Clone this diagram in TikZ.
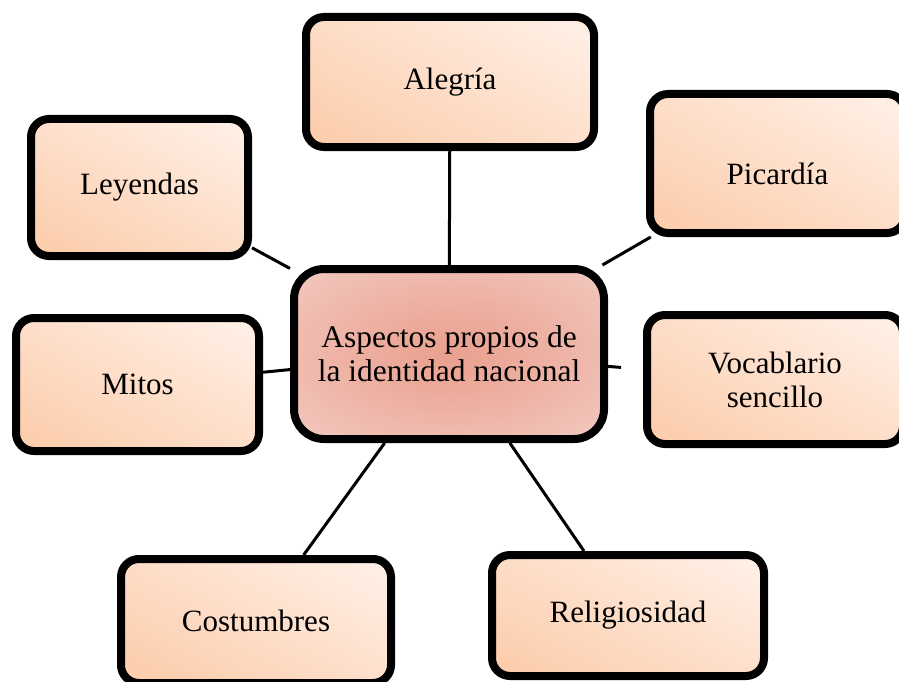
\documentclass[tikz,border=0pt]{standalone}
\usepackage{fontspec}
\setmainfont{Liberation Serif}
\usetikzlibrary{backgrounds}
\definecolor{peachA}{RGB}{252,206,174}
\definecolor{peachB}{RGB}{255,238,228}
\definecolor{coreA}{RGB}{234,160,143}
\definecolor{coreB}{RGB}{247,225,220}
\pgfdeclareverticalshading{peachlin}{100bp}{color(0bp)=(peachA); color(22bp)=(peachA); color(78bp)=(peachB); color(100bp)=(peachB)}
\pgfdeclareradialshading{corerad}{\pgfpoint{0bp}{0bp}}{color(0bp)=(coreA); color(10bp)=(coreA!85!coreB); color(55bp)=(coreB); color(80bp)=(coreB)}
\begin{document}
\begin{tikzpicture}[x=1pt,y=-1pt,
  box/.style={draw=black, line width=8pt, rounded corners=18pt,
    shading=peachlin, shading angle=-28,
    font=\fontsize{31}{34}\selectfont, align=center, inner sep=0pt},
  hub/.style={draw=black, line width=8pt, rounded corners=30pt,
    shading=corerad, font=\fontsize{31.5}{34}\selectfont, align=center, inner sep=0pt},
  link/.style={line width=3pt}]
\useasboundingbox (0,0) rectangle (899,682);
\node[hub, minimum width=310pt, minimum height=170pt] (hubn) at (449,354) {Aspectos propios de\\la identidad nacional};
\node[box, minimum width=288pt, minimum height=130pt] (ale) at (450,82) {Alegría};
\node[box, minimum width=255pt, minimum height=139pt, text height=42pt] (pic) at (777.5,163.5) {Picardía};
\node[box, minimum width=217pt, minimum height=137pt] (ley) at (139.5,187.5) {Leyendas};
\node[box, minimum width=243pt, minimum height=133pt] (mit) at (137.5,384.5) {Mitos};
\node[box, minimum width=256pt, minimum height=129pt] (voc) at (775,379.5) {Vocablario\\sencillo};
\node[box, minimum width=270pt, minimum height=124pt] (cos) at (256,621) {Costumbres};
\node[box, minimum width=272pt, minimum height=121pt] (rel) at (628,615.5) {Religiosidad};
\begin{scope}[on background layer]
\draw[link] (hubn) -- (ale);
\draw[link] (hubn) -- (pic);
\draw[link] (hubn) -- (ley);
\draw[link] (hubn) -- (mit);
\draw[link, shorten >=22pt] (hubn) -- (voc);
\draw[link] (hubn) -- (cos);
\draw[link] (hubn) -- (rel);
\end{scope}
\end{tikzpicture}
\end{document}
